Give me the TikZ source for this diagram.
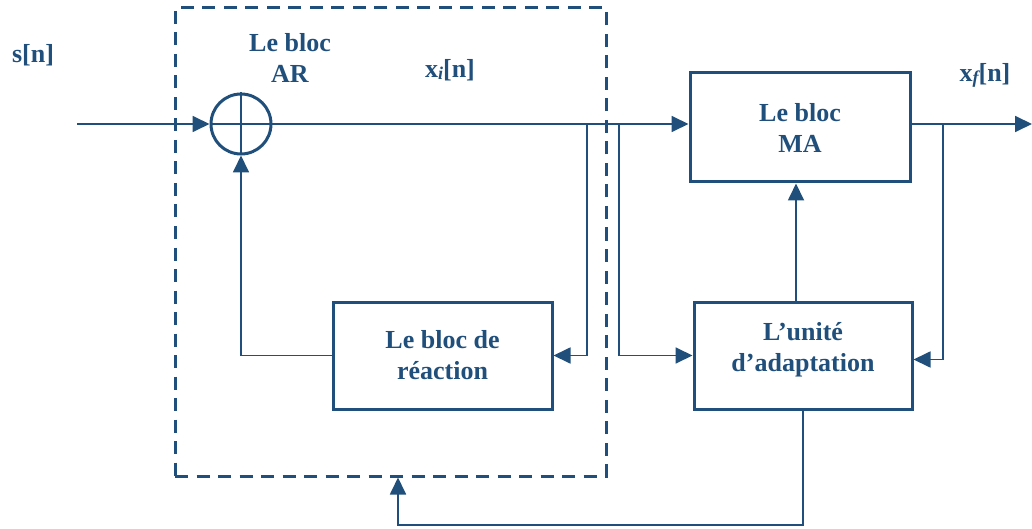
\documentclass[tikz,border=0pt]{standalone}
\usepackage{fontspec}
\setmainfont{Liberation Serif}
\usetikzlibrary{arrows.meta}
\definecolor{dblue}{RGB}{31,79,122}
\begin{document}
\begin{tikzpicture}[x=1pt,y=-1pt,
  every node/.style={text=dblue, font=\fontsize{26}{31}\selectfont\bfseries},
  wire/.style={draw=dblue, line width=1.8pt},
  arr/.style={wire, -{Triangle[length=17pt,width=16pt]}},
  blk/.style={draw=dblue, line width=3pt, rectangle, align=center, inner sep=0pt},
  dbox/.style={draw=dblue, line width=3pt, dash pattern=on 13pt off 8.5pt, rectangle, inner sep=0pt}]
\useasboundingbox (0,0) rectangle (1032,529);
% dashed AR block
\node[dbox, minimum width=431pt, minimum height=468pt] (ar) at (390.5,242) {};
% summing junction
\node[draw=dblue, line width=3pt, circle, minimum size=60pt, inner sep=0pt] (sum) at (241,124) {};
\draw[dblue, line width=2.5pt] (sum.north) -- (sum.south) (sum.west) -- (sum.east);
% blocks
\node[blk, minimum width=220pt, minimum height=109pt] (ma) at (800,127.5) {Le bloc\\MA};
\node[blk, minimum width=219pt, minimum height=107pt] (reac) at (442.5,355.5) {Le bloc de\\réaction};
\node[blk, minimum width=218pt, minimum height=107pt, text depth=18pt] (adapt) at (803,355.5) {L’unité\\d’adaptation};
% labels
\node (sn) at (33,55) {s[n]};
\node[align=center] (arl) at (290,58) {Le bloc\\AR};
\node (xi) at (450,70) {x\raisebox{-2pt}{\fontsize{18}{18}\selectfont\itshape i}[n]};
\node (xf) at (985,75) {x\raisebox{-2pt}{\fontsize{18}{18}\selectfont\itshape f}[n]};
% coordinates
\coordinate (in) at (77,124);
\coordinate (b1) at (587,124);
\coordinate (b2) at (619,124);
\coordinate (b3) at (943,124);
\coordinate (out) at (1032,124);
\coordinate (fb) at (398,525);
% connectors
\draw[arr] (in) -- (sum.west);
\draw[arr] (sum.east) -- (ma.west |- sum);
\draw[arr] (ma.east |- sum) -- (out);
\draw[arr] (b1) |- (reac.east);
\draw[arr] (reac.west) -| (sum.south);
\draw[arr] (b2) |- (adapt.west);
\draw[arr] (b3) |- ([yshift=-4pt]adapt.east);
\draw[arr] ([xshift=-7pt]adapt.north) -- ([xshift=-7pt]adapt.north |- ma.south);
\draw[arr] (adapt.south) |- (fb) -- (fb |- ar.south);
\end{tikzpicture}
\end{document}
